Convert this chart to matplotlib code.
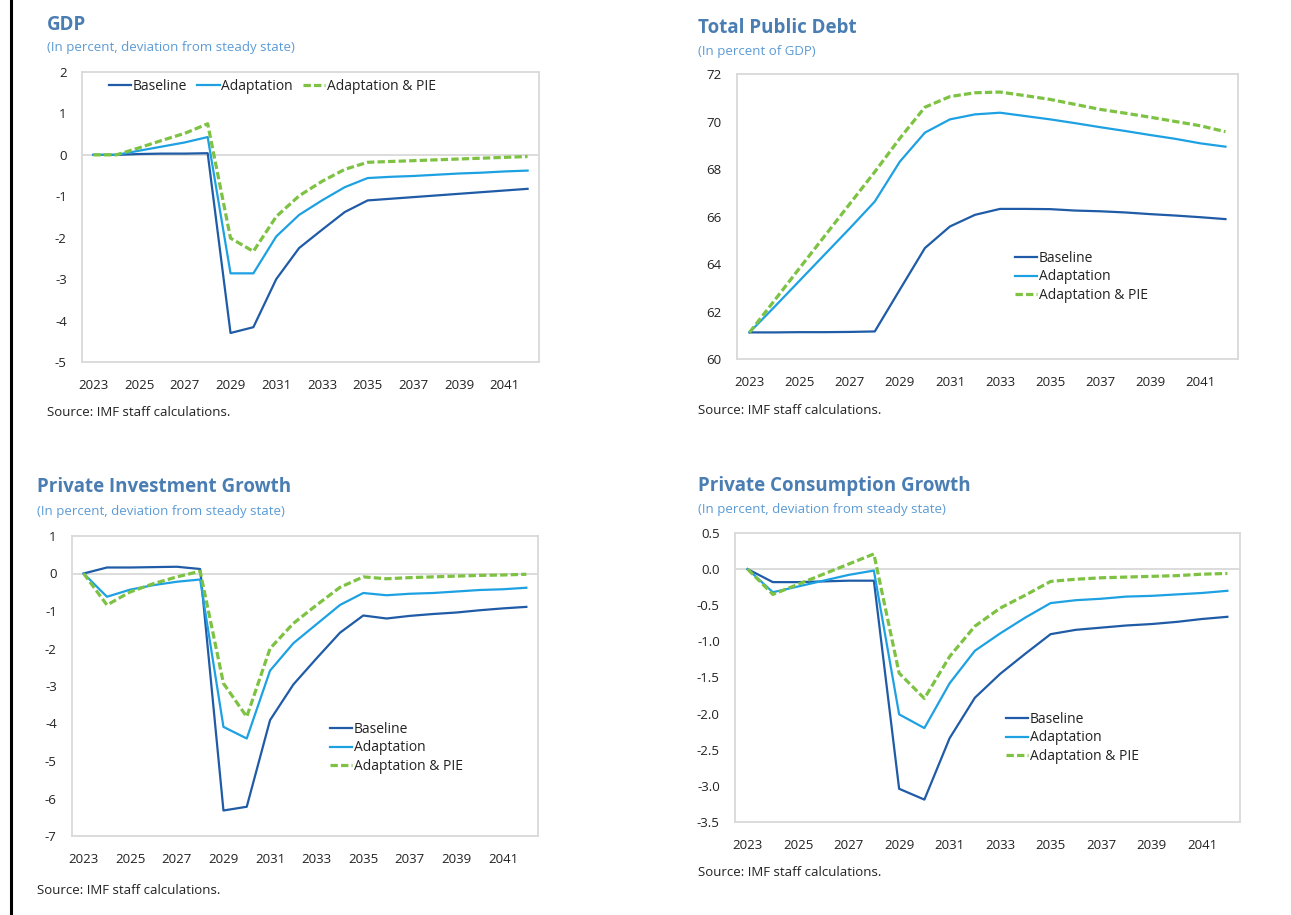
import matplotlib
matplotlib.use("Agg")
import matplotlib.pyplot as plt
from matplotlib.lines import Line2D

plt.rcParams['font.family'] = ['Open Sans', 'DejaVu Sans']

years = list(range(2023, 2043))
xtick_years = list(range(2023, 2043, 2))
series_names = ["Baseline", "Adaptation", "Adaptation & PIE"]

gdp_baseline = [0, 0, 0.02, 0.03, 0.03, 0.04, -4.30, -4.16, -3.00, -2.25, -1.81, -1.38, -1.10,
                -1.06, -1.02, -0.98, -0.94, -0.90, -0.86, -0.82]
gdp_adapt = [0, 0, 0.10, 0.20, 0.30, 0.43, -2.86, -2.86, -1.97, -1.45, -1.10, -0.78, -0.56,
             -0.53, -0.51, -0.48, -0.45, -0.43, -0.40, -0.38]
gdp_pie = [0, 0, 0.17, 0.35, 0.52, 0.75, -2.01, -2.33, -1.49, -0.99, -0.64, -0.35, -0.18,
           -0.16, -0.14, -0.12, -0.10, -0.08, -0.06, -0.04]

debt_baseline = [61.12, 61.12, 61.13, 61.13, 61.14, 61.16, 62.92, 64.67, 65.58, 66.07, 66.32, 66.32,
                 66.31, 66.25, 66.22, 66.17, 66.10, 66.04, 65.97, 65.89]
debt_adapt = [61.12, 62.20, 63.30, 64.40, 65.50, 66.63, 68.31, 69.53, 70.09, 70.30, 70.37, 70.23,
              70.09, 69.93, 69.76, 69.60, 69.43, 69.27, 69.08, 68.94]
debt_pie = [61.12, 62.47, 63.83, 65.18, 66.53, 67.88, 69.29, 70.60, 71.05, 71.21, 71.24, 71.09,
            70.93, 70.72, 70.51, 70.35, 70.18, 70.00, 69.82, 69.57]

inv_baseline = [0, 0.16, 0.16, 0.17, 0.18, 0.12, -6.32, -6.22, -3.91, -2.96, -2.26, -1.58, -1.12,
                -1.20, -1.13, -1.08, -1.04, -0.98, -0.93, -0.89]
inv_adapt = [0, -0.62, -0.43, -0.31, -0.22, -0.16, -4.09, -4.40, -2.59, -1.86, -1.35, -0.84, -0.52,
             -0.58, -0.54, -0.52, -0.48, -0.44, -0.42, -0.38]
inv_pie = [0, -0.84, -0.49, -0.27, -0.09, 0.06, -2.93, -3.82, -2.00, -1.33, -0.84, -0.37, -0.09,
           -0.14, -0.11, -0.09, -0.07, -0.05, -0.04, -0.02]

cons_baseline = [0, -0.18, -0.18, -0.17, -0.16, -0.16, -3.04, -3.19, -2.34, -1.78, -1.45, -1.17, -0.90,
                 -0.84, -0.81, -0.78, -0.76, -0.73, -0.69, -0.66]
cons_adapt = [0, -0.32, -0.24, -0.16, -0.08, -0.02, -2.01, -2.20, -1.58, -1.13, -0.89, -0.67, -0.47,
              -0.43, -0.41, -0.38, -0.37, -0.35, -0.33, -0.30]
cons_pie = [0, -0.35, -0.21, -0.07, 0.07, 0.21, -1.44, -1.79, -1.21, -0.79, -0.54, -0.36, -0.17,
            -0.14, -0.12, -0.11, -0.10, -0.09, -0.07, -0.06]

gdp_yticks = [2, 1, 0, -1, -2, -3, -4, -5]
debt_yticks = [60, 62, 64, 66, 68, 70, 72]
inv_yticks = [1, 0, -1, -2, -3, -4, -5, -6, -7]
cons_yticks = [0.5, 0.0, -0.5, -1.0, -1.5, -2.0, -2.5, -3.0, -3.5]

titles = ["GDP", "Total Public Debt", "Private Investment Growth", "Private Consumption Growth"]
subtitles = ["(In percent, deviation from steady state)", "(In percent of GDP)",
             "(In percent, deviation from steady state)", "(In percent, deviation from steady state)"]
source = "Source: IMF staff calculations."

C_BASE = "#1F5BA6"
C_ADAPT = "#1DA1E2"
C_PIE = "#7DC242"
C_TITLE = "#4A7DB2"
C_SUB = "#5B9BD5"
C_FRAME = "#D9D9D9"

W, H = 1291, 915
fig = plt.figure(figsize=(W / 100, H / 100), dpi=100)


def add_ax(l, t, r, b):
    return fig.add_axes([l / W, 1 - b / H, (r - l) / W, (b - t) / H])


def px(x, y):
    return x / W, 1 - y / H


panels = [
    dict(frame=(82, 72, 539, 362), data=(gdp_baseline, gdp_adapt, gdp_pie), yticks=gdp_yticks,
         fmt="{:.0f}", zero=True, title_xy=(47, 25), sub_xy=(47, 48), src_xy=(47, 413),
         legend=dict(xy=(109, 88), ncol=3)),
    dict(frame=(737, 74, 1238, 359), data=(debt_baseline, debt_adapt, debt_pie), yticks=debt_yticks,
         fmt="{:.0f}", zero=False, title_xy=(698, 28), sub_xy=(698, 51), src_xy=(698, 410),
         legend=dict(xy=(1015, 260), ncol=1)),
    dict(frame=(72, 536, 538, 836), data=(inv_baseline, inv_adapt, inv_pie), yticks=inv_yticks,
         fmt="{:.0f}", zero=True, title_xy=(37, 487), sub_xy=(37, 512), src_xy=(37, 890),
         legend=dict(xy=(330, 731), ncol=1)),
    dict(frame=(735, 533, 1240, 822), data=(cons_baseline, cons_adapt, cons_pie), yticks=cons_yticks,
         fmt="{:.1f}", zero=True, title_xy=(698, 486), sub_xy=(698, 510), src_xy=(698, 873),
         legend=dict(xy=(1006, 721), ncol=1)),
]

for i, p in enumerate(panels):
    ax = add_ax(*p["frame"])
    b, a, g = p["data"]
    if p["zero"]:
        ax.axhline(0, color=C_FRAME, lw=1.3, zorder=1)
    ax.plot(years, b, color=C_BASE, lw=1.6, label=series_names[0], zorder=3)
    ax.plot(years, a, color=C_ADAPT, lw=1.6, label=series_names[1], zorder=3)
    ax.plot(years, g, color=C_PIE, lw=2.3, ls=(0, (2.3, 1.0)), label=series_names[2], zorder=4)
    ax.set_xlim(2022.5, 2042.5)
    ax.set_ylim(min(p["yticks"]), max(p["yticks"]))
    ax.set_xticks(xtick_years)
    ax.set_xticklabels([str(y) for y in xtick_years])
    ax.set_yticks(p["yticks"])
    ax.set_yticklabels([p["fmt"].format(v) for v in p["yticks"]])
    ax.tick_params(length=0, labelsize=9.5, labelcolor="#222222")
    ax.tick_params(axis="x", pad=12)
    ax.tick_params(axis="y", pad=11)
    for s in ax.spines.values():
        s.set_color(C_FRAME)
        s.set_linewidth(1.3)
    lg = p["legend"]
    leg = ax.legend(loc="upper left", bbox_to_anchor=px(lg["xy"][0], lg["xy"][1] - 9),
                    bbox_transform=fig.transFigure, ncol=lg["ncol"], frameon=False,
                    fontsize=10, handlelength=1.6, handletextpad=0.1, labelspacing=0.25,
                    columnspacing=0.75, borderaxespad=0, borderpad=0)
    for t in leg.get_texts():
        t.set_color("#222222")
    fig.text(*px(*p["title_xy"]), titles[i], fontsize=13.5, fontweight="bold",
             color=C_TITLE, ha="left", va="center")
    fig.text(*px(*p["sub_xy"]), subtitles[i], fontsize=9.5, color=C_SUB, ha="left", va="center")
    fig.text(*px(*p["src_xy"]), source, fontsize=9.5, color="#222222", ha="left", va="center")

fig.add_artist(Line2D([11 / W, 11 / W], [0, 1], transform=fig.transFigure, color="black", lw=2.2))

fig.savefig("out.png", dpi=100)
